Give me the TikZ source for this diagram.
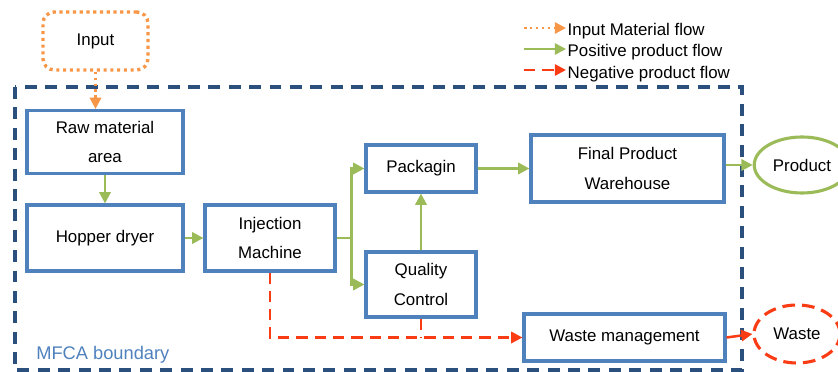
\documentclass[tikz,border=0pt]{standalone}
\usepackage{fontspec}
\setmainfont{Liberation Sans}
\usepackage{tikz}
\usetikzlibrary{calc}
\usetikzlibrary{arrows.meta}
\usetikzlibrary{shapes.geometric}

\definecolor{boxblue}{RGB}{79,129,189}
\definecolor{bounddark}{RGB}{44,80,126}
\definecolor{flowgreen}{RGB}{155,187,89}
\definecolor{flowred}{RGB}{250,60,20}
\definecolor{floworange}{RGB}{247,150,70}

\tikzset{
  procbox/.style={draw=boxblue, line width=2.2pt, rectangle, align=center,
    font=\fontsize{12}{21}\selectfont},
  endbox/.style={ellipse, line width=2.2pt, font=\fontsize{12}{14}\selectfont},
  tip/.style={-{Triangle[length=8pt,width=8pt]}},
  posflow/.style={draw=flowgreen, line width=1.8pt, tip},
  negflow/.style={draw=flowred, line width=1.8pt, dash pattern=on 8pt off 5pt},
  inflow/.style={draw=floworange, line width=1.8pt, dash pattern=on 1.8pt off 2.4pt},
  legtext/.style={anchor=west, inner sep=1pt, font=\fontsize{12}{14}\selectfont}
}

\begin{document}
\begin{tikzpicture}[x=0.025cm, y=-0.025cm]
            \useasboundingbox (0,0) rectangle (838,372);
            
            % MFCA boundary
            \draw [draw=bounddark, line width=2.2pt, dash pattern=on 8.5pt off 6pt] (15,87) rectangle (742,370);%
            \node [anchor=west, text=boxblue, inner sep=0pt, font=\fontsize{13}{15}\selectfont] (mfca) at (36,355) {MFCA boundary};%
            
            % Input
            \node [draw=floworange, line width=2.4pt, dash pattern=on 2.2pt off 2.6pt, rounded corners=8pt,
                   minimum width=2.625cm, minimum height=1.45cm, font=\fontsize{12}{14}\selectfont] (input) at (95.5,41) {Input};%
            
            % Process boxes
            \node [procbox, minimum width=3.9cm, minimum height=1.575cm] (raw) at (105,142) {Raw material\\area};%
            \node [procbox, minimum width=3.9cm, minimum height=1.65cm] (hopper) at (105,238) {Hopper dryer};%
            \node [procbox, minimum width=3.25cm, minimum height=1.65cm] (inject) at (270,238) {Injection\\Machine};%
            \node [procbox, minimum width=2.75cm, minimum height=1.175cm] (pack) at (421,168.5) {Packagin};%
            \node [procbox, minimum width=2.75cm, minimum height=1.625cm] (quality) at (421,284.5) {Quality\\Control};%
            \node [procbox, minimum width=4.825cm, minimum height=1.675cm] (final) at (627.5,168.5) {Final Product\\Warehouse};%
            \node [procbox, minimum width=5.025cm, minimum height=1.175cm] (wastemgmt) at (624.5,337.5) {Waste management};%
            
            % Outputs
            \node [endbox, draw=flowgreen, minimum width=2.05cm, minimum height=1.4cm] (product) at (802,165) {Product};%
            \node [endbox, draw=flowred, dash pattern=on 9pt off 5pt, minimum width=2.15cm, minimum height=1.45cm] (waste) at (797,334) {Waste};%
            
            % Input material flow
            \draw [inflow, tip] (input.south) -- (input.south |- raw.north);%
            
            % Positive product flow
            \draw [posflow] (raw.south) -- (hopper.north);%
            \draw [posflow] (hopper.east) -- (inject.west);%
            \draw [posflow] (inject.east) -- ++(15,0) |- (pack.west);%
            \draw [posflow] (inject.east) -- ++(15,0) |- (quality.west);%
            \draw [posflow] (quality.north) -- (pack.south);%
            \draw [posflow] (pack.east) -- (pack.east -| final.west);%
            \draw [posflow] (final.east |- product.west) -- (product.west);%
            
            % Negative product flow
            \draw [negflow, tip] (inject.south) |- (wastemgmt.west);%
            \draw [negflow] (quality.south) -- (quality.south |- wastemgmt.west);%
            \draw [draw=flowred, line width=1.8pt, tip] (wastemgmt.east) -- (waste.west);%
            
            % Legend
            \node [legtext] (legin) at (566,31) {Input Material flow};%
            \node [legtext] (legpos) at (566,52) {Positive product flow};%
            \node [legtext] (legneg) at (566,74) {Negative product flow};%
            \coordinate (lgin) at (524,28);%
            \coordinate (lgpos) at (524,49);%
            \coordinate (lgneg) at (524,70);%
            \draw [inflow, tip] (lgin) -- (lgin -| legin.west);%
            \draw [posflow] (lgpos) -- (lgpos -| legpos.west);%
            \draw [negflow, tip] (lgneg) -- (lgneg -| legneg.west);%
\end{tikzpicture}
\end{document}
